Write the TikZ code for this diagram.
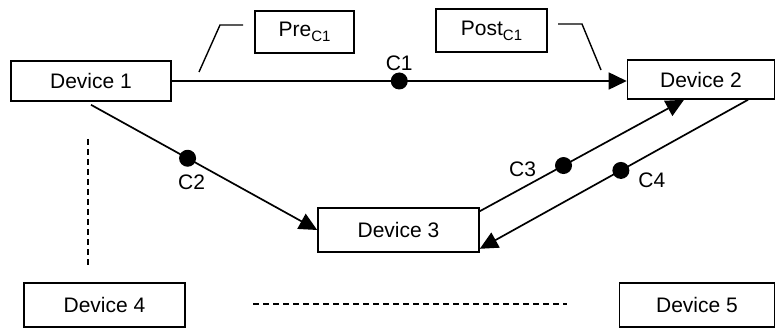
\documentclass[tikz,border=0pt]{standalone}
\usepackage{fontspec}
\setmainfont{Liberation Sans}
\usetikzlibrary{arrows.meta}

\tikzset{
  device/.style={draw, line width=1.6pt, rectangle, inner sep=0pt,
    font=\fontsize{21}{23}\selectfont},
  tagbox/.style={draw, line width=1.6pt, rectangle, inner sep=0pt,
    font=\fontsize{21}{23}\selectfont},
  link/.style={line width=1.7pt},
  flow/.style={link, -{Triangle[length=18pt,width=17pt]}},
  dot/.style={circle, fill=black, inner sep=0pt, minimum size=17pt},
  clabel/.style={font=\fontsize{21}{23}\selectfont, inner sep=0pt},
  guide/.style={line width=1.1pt, dash pattern=on 6pt off 4pt},
  callout/.style={line width=1.4pt}
}
\newcommand{\subC}[1]{{\fontsize{15}{15}\selectfont\raisebox{-5pt}{#1}}}

\begin{document}
\begin{tikzpicture}[x=1pt,y=-1pt]
  \useasboundingbox (0,0) rectangle (776,331);

  % devices
  \node[device, minimum width=160pt, minimum height=40pt] (d1) at (91,81) {Device 1};
  \node[device, minimum width=147pt, minimum height=39pt] (d2) at (701,79.5) {Device 2};
  \node[device, minimum width=161pt, minimum height=44pt] (d3) at (398.5,230) {Device 3};
  \node[device, minimum width=161pt, minimum height=44pt] (d4) at (104.5,305) {Device 4};
  \node[device, minimum width=155pt, minimum height=44pt] (d5) at (697,305) {Device 5};

  % pre/post condition tags
  \node[tagbox, minimum width=99pt, minimum height=42pt] (pre) at (304.5,32) {Pre\subC{C1}};
  \node[tagbox, minimum width=111pt, minimum height=43pt] (post) at (491.5,30.5) {Post\subC{C1}};

  % callout lines from the tags to the C1 link
  \coordinate (preA) at (243,25);
  \coordinate (preB) at (220,25);
  \coordinate (preC) at (199,72);
  \draw[callout] (preA) -- (preB) -- (preC);
  \coordinate (postA) at (558,24);
  \coordinate (postB) at (582,24);
  \coordinate (postC) at (601,70);
  \draw[callout] (postA) -- (postB) -- (postC);

  % C1: Device 1 -> Device 2
  \draw[flow] (d1.east) -- (d1.east -| d2.west)
    node[dot, pos=0.5] (c1dot) {};
  \node[clabel] (c1) at ([yshift=18pt]c1dot.center) {C1};

  % C2: Device 1 -> Device 3
  \draw[flow] ([yshift=-3pt]d1.south) -- (d3.west)
    node[dot, pos=0.427] (c2dot) {};
  \node[clabel] (c2) at ([xshift=4pt,yshift=-24pt]c2dot.center) {C2};

  % C3: Device 3 -> Device 2
  \draw[flow] ([yshift=-4pt]d3.north east) -- ([xshift=-17pt]d2.south)
    node[dot, pos=0.41] (c3dot) {};
  \node[clabel] (c3) at ([xshift=-41pt,yshift=-4pt]c3dot.center) {C3};

  % C4: Device 2 -> Device 3
  \draw[flow] ([xshift=47pt]d2.south) -- ([yshift=4pt]d3.south east)
    node[dot, pos=0.474] (c4dot) {};
  \node[clabel] (c4) at ([xshift=31pt,yshift=-10pt]c4dot.center) {C4};

  % dashed guides towards the unconnected devices
  \coordinate (vtop) at (88,139);
  \coordinate (vbot) at (88,267);
  \draw[guide] (vtop) -- (vbot);
  \coordinate (hleft) at (253,304);
  \coordinate (hright) at (567,304);
  \draw[guide] (hleft) -- (hright);
\end{tikzpicture}
\end{document}
